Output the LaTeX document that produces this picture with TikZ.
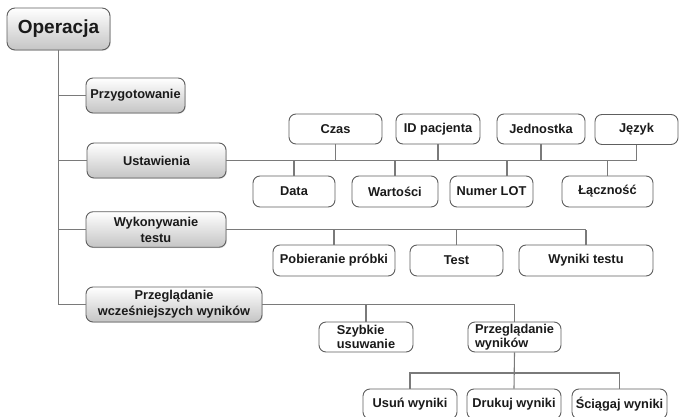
\documentclass[tikz,border=0pt]{standalone}
\usepackage{fontspec}
\setmainfont{Liberation Sans}
\usetikzlibrary{shadows,calc}
\definecolor{txt}{HTML}{1A1A1A}
\definecolor{linkc}{HTML}{7A7A7A}
\definecolor{boxline}{HTML}{5E5E5E}
\begin{document}
\begin{tikzpicture}[x=1pt,y=-1pt,
  mainbox/.style={draw=boxline, line width=0.9pt, rounded corners=7pt,
    top color=white, bottom color=black!23, inner sep=0pt, text=txt,
    font=\bfseries\fontsize{12.8}{16}\selectfont, align=center,
    drop shadow={shadow xshift=0.8pt, shadow yshift=-0.8pt, opacity=0.25}},
  subbox/.style={draw=boxline, line width=0.9pt, rounded corners=7pt,
    fill=white, inner sep=0pt, text=txt,
    font=\bfseries\fontsize{12.8}{13.5}\selectfont, align=center},
  link/.style={draw=linkc, line width=1.1pt}]
\useasboundingbox (0,0) rectangle (679,417);
\clip (0,0) rectangle (679,417);
% top level
\node[mainbox, rounded corners=8pt, minimum width=103pt, minimum height=42pt,
  font=\bfseries\fontsize{19}{22}\selectfont] (op) at (58.5,29) {Operacja};
\node[mainbox, minimum width=99pt, minimum height=35pt] (prz) at (135.5,95.5) {Przygotowanie};
\node[mainbox, minimum width=139pt, minimum height=35pt] (ust) at (156.5,160.5) {Ustawienia};
\node[mainbox, minimum width=140pt, minimum height=35.5pt] (wyk) at (156,229.5) {Wykonywanie\\testu};
\node[mainbox, minimum width=176pt, minimum height=35pt] (prg) at (174,304.5) {Przeglądanie\\wcześniejszych wyników};
% Ustawienia children
\node[subbox, minimum width=93pt, minimum height=30pt] (czas) at (335.5,129) {Czas};
\node[subbox, minimum width=84pt, minimum height=30pt] (id) at (438,129) {ID pacjenta};
\node[subbox, minimum width=88pt, minimum height=30pt] (jedn) at (541,129) {Jednostka};
\node[subbox, minimum width=83pt, minimum height=30pt] (jez) at (636.5,129.5) {Język};
\node[subbox, minimum width=82pt, minimum height=31pt] (data) at (294,191.5) {Data};
\node[subbox, minimum width=86pt, minimum height=31pt] (wart) at (395,191.5) {Wartości};
\node[subbox, minimum width=83pt, minimum height=31pt] (numer) at (491.5,191.5) {Numer LOT};
\node[subbox, minimum width=91pt, minimum height=31pt] (lacz) at (607.5,191.5) {Łączność};
% Wykonywanie children
\node[subbox, minimum width=122pt, minimum height=31pt] (pob) at (334,260.5) {Pobieranie próbki};
\node[subbox, minimum width=93pt, minimum height=31pt] (test) at (456.5,260.5) {Test};
\node[subbox, minimum width=134pt, minimum height=31pt] (wyn) at (586,260.5) {Wyniki testu};
% Przegladanie children
\node[subbox, minimum width=94pt, minimum height=30pt, align=left] (szyb) at (366,337) {Szybkie\\usuwanie};
\node[subbox, minimum width=93pt, minimum height=30pt, align=left] (pwyn) at (514.5,337) {Przeglądanie\\wyników};
\node[subbox, minimum width=94pt, minimum height=30pt] (usun) at (410,404) {Usuń wyniki};
\node[subbox, minimum width=94pt, minimum height=30pt] (druk) at (514,404) {Drukuj wyniki};
\node[subbox, minimum width=95pt, minimum height=30pt] (scia) at (619.5,404) {Ściągaj wyniki};
% connectors: trunk
\draw[link] (op.south) -- (op.south |- prg.west);
\draw[link] (op.south |- prz.west) -- (prz.west);
\draw[link] (op.south |- ust.west) -- (ust.west);
\draw[link] (op.south |- wyk.west) -- (wyk.west);
\draw[link] (op.south |- prg.west) -- (prg.west);
% Ustawienia bus
\draw[link] (ust.east) -- (ust.east -| jez.south);
\foreach \n in {czas,id,jedn,jez}{\draw[link] (\n.south) -- (\n.south |- ust.east);}
\foreach \n in {data,wart,lacz}{\draw[link] (\n.north) -- (\n.north |- ust.east);}
\coordinate (numtop) at ($(numer.north)+(15.5,0)$);
\draw[link] (numtop) -- (numtop |- ust.east);
% Wykonywanie bus
\draw[link] (wyk.east) -- (wyk.east -| wyn.north);
\foreach \n in {pob,test,wyn}{\draw[link] (\n.north) -- (\n.north |- wyk.east);}
% Przegladanie bus
\draw[link] (prg.east) -- (prg.east -| pwyn.north);
\foreach \n in {szyb,pwyn}{\draw[link] (\n.north) -- (\n.north |- prg.east);}
% Przegladanie wynikow bus
\coordinate (b3) at (514,373);
\draw[link] (pwyn.south) -- (druk.north);
\draw[link] (usun.north) -- (usun.north |- b3) -- (scia.north |- b3) -- (scia.north);
\end{tikzpicture}
\end{document}
